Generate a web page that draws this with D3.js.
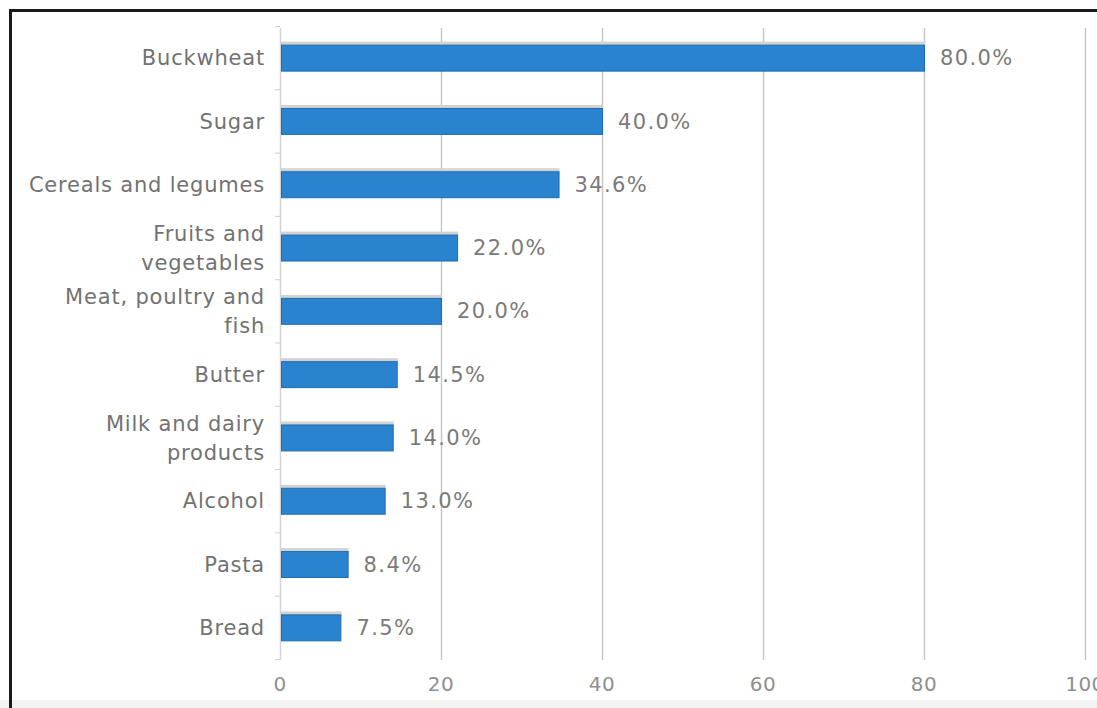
<!DOCTYPE html>
<html>
<head>
<meta charset="utf-8">
<script src="https://cdn.jsdelivr.net/npm/d3@7"></script>
<style>
  html, body { margin: 0; padding: 0; background: #fff; }
  svg { display: block; }
  text { font-family: "DejaVu Sans", Verdana, sans-serif; }
</style>
</head>
<body>
<script>
// data
var categories = ["Buckwheat", "Sugar", "Cereals and legumes", "Fruits and\nvegetables",
  "Meat, poultry and\nfish", "Butter", "Milk and dairy\nproducts", "Alcohol", "Pasta", "Bread"];
var values = [80.0, 40.0, 34.6, 22.0, 20.0, 14.5, 14.0, 13.0, 8.4, 7.5];
var xTicks = [0, 20, 40, 60, 80, 100];

var width = 1097, height = 708;

var svg = d3.select("body").append("svg")
    .attr("width", width)
    .attr("height", height);

// page background, light strip at the bottom and the dark frame
svg.append("rect").attr("width", width).attr("height", height).attr("fill", "#fff");
svg.append("rect").attr("x", 0).attr("y", 700).attr("width", width).attr("height", 8).attr("fill", "#f3f3f3");
svg.append("rect").attr("x", 9).attr("y", 9).attr("width", 3).attr("height", height - 9).attr("fill", "#1a1a1a");
svg.append("rect").attr("x", 9).attr("y", 9).attr("width", width - 9).attr("height", 3).attr("fill", "#1a1a1a");

var x = d3.scaleLinear().domain([0, 100]).range([280, 1085]);
var y = d3.scaleBand().domain(d3.range(categories.length))
    .range([26, 659]).paddingInner(0.59).paddingOuter(0.295);

var gridTop = 28, gridBottom = 660;

// vertical gridlines
svg.append("g").selectAll("line")
  .data(xTicks.slice(1))
  .join("line")
    .attr("x1", function(d) { return x(d) + 0.5; })
    .attr("x2", function(d) { return x(d) + 0.5; })
    .attr("y1", gridTop)
    .attr("y2", gridBottom)
    .attr("stroke", "#c8c8c8")
    .attr("stroke-width", 1.5);

// left axis line with category separators
svg.append("line")
    .attr("x1", x(0) + 0.5).attr("x2", x(0) + 0.5)
    .attr("y1", gridTop).attr("y2", gridBottom)
    .attr("stroke", "#d4d4d4").attr("stroke-width", 1.5);

svg.append("g").selectAll("line")
  .data(d3.range(categories.length + 1))
  .join("line")
    .attr("x1", x(0) - 5)
    .attr("x2", x(0))
    .attr("y1", function(i) { return y.range()[0] + i * y.step() + 0.5; })
    .attr("y2", function(i) { return y.range()[0] + i * y.step() + 0.5; })
    .attr("stroke", "#cfcfcf");

// x tick labels
svg.append("g").selectAll("text")
  .data(xTicks)
  .join("text")
    .attr("x", function(d) { return x(d); })
    .attr("y", 691)
    .attr("text-anchor", "middle")
    .attr("fill", "#8f8f8f")
    .attr("font-size", 20)
    .attr("letter-spacing", 0.5)
    .text(function(d) { return d; });

var bars = svg.append("g").selectAll("g")
  .data(values)
  .join("g");

// grey shadow strip just above each bar
bars.append("rect")
    .attr("x", x(0) + 1)
    .attr("y", function(d, i) { return y(i) - 3; })
    .attr("width", function(d) { return x(d) - x(0); })
    .attr("height", 6)
    .attr("fill", "#d2d2d2");

bars.append("rect")
    .attr("x", x(0) + 1.5)
    .attr("y", function(d, i) { return y(i) + 0.5; })
    .attr("width", function(d) { return x(d) - x(0) - 1; })
    .attr("height", y.bandwidth())
    .attr("fill", "#2a83cf")
    .attr("stroke", "#1e6db0")
    .attr("stroke-width", 1);

// value labels
bars.append("text")
    .attr("x", function(d) { return x(d) + 16; })
    .attr("y", function(d, i) { return y(i) + y.bandwidth() / 2; })
    .attr("dy", "0.36em")
    .attr("fill", "#7a7a7a")
    .attr("font-size", 21)
    .attr("letter-spacing", 1.4)
    .text(function(d) { return d.toFixed(1) + "%"; });

// category labels, split on newlines
svg.append("g").selectAll("text")
  .data(categories)
  .join("text")
    .attr("text-anchor", "end")
    .attr("fill", "#727272")
    .attr("font-size", 21)
    .attr("letter-spacing", 0.8)
    .each(function(d, i) {
      var lines = d.split("\n");
      var cy = y(i) + y.bandwidth() / 2;
      var lh = 29;
      d3.select(this).selectAll("tspan")
        .data(lines)
        .join("tspan")
          .attr("x", 265)
          .attr("y", function(l, j) { return cy + (j - (lines.length - 1) / 2) * lh; })
          .attr("dy", "0.36em")
          .text(function(l) { return l; });
    });
</script>
</body>
</html>
